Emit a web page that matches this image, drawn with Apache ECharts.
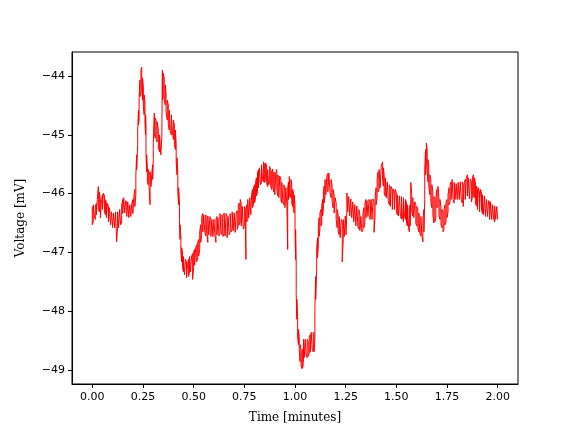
<!DOCTYPE html>
<html>
<head>
<meta charset="utf-8">
<script src="https://cdn.jsdelivr.net/npm/echarts@6/dist/echarts.min.js"></script>
<style>html,body{margin:0;padding:0;background:#fff}#chart{width:576px;height:432px}</style>
</head>
<body>
<div id="chart"></div>
<script>
// Sample times (minutes) with upper / lower extent of the noisy trace (mV)
const timeMin = [
0.000,0.005,0.010,0.015,0.020,0.025,0.030,0.035,0.040,0.045,0.050,0.055,0.060,0.065,0.070,0.075,0.080,0.085,0.090,0.095,
0.100,0.105,0.110,0.115,0.120,0.125,0.130,0.135,0.140,0.145,0.150,0.155,0.160,0.165,0.170,0.175,0.180,0.185,0.190,0.195,
0.200,0.205,0.210,0.215,0.219,0.224,0.228,0.231,0.235,0.240,0.244,0.248,0.252,0.256,0.260,0.263,0.265,0.268,0.272,0.276,
0.280,0.285,0.290,0.294,0.298,0.301,0.306,0.310,0.315,0.320,0.326,0.332,0.338,0.343,0.346,0.350,0.355,0.360,0.364,0.370,
0.375,0.380,0.385,0.390,0.395,0.400,0.405,0.410,0.414,0.418,0.422,0.426,0.430,0.433,0.437,0.441,0.445,0.450,0.455,0.460,
0.465,0.470,0.475,0.480,0.485,0.490,0.495,0.500,0.505,0.510,0.515,0.520,0.525,0.530,0.535,0.540,0.545,0.550,0.555,0.560,
0.565,0.570,0.575,0.580,0.585,0.590,0.595,0.600,0.605,0.610,0.615,0.620,0.625,0.630,0.635,0.640,0.645,0.650,0.655,0.660,
0.665,0.670,0.675,0.680,0.685,0.690,0.695,0.700,0.705,0.710,0.715,0.720,0.725,0.730,0.735,0.740,0.745,0.750,0.755,0.758,
0.762,0.767,0.772,0.777,0.782,0.786,0.790,0.795,0.800,0.805,0.810,0.815,0.820,0.825,0.830,0.835,0.840,0.845,0.850,0.855,
0.860,0.865,0.870,0.875,0.880,0.885,0.890,0.895,0.900,0.905,0.910,0.915,0.920,0.925,0.930,0.935,0.940,0.945,0.950,0.955,
0.960,0.964,0.968,0.972,0.976,0.980,0.984,0.988,0.992,0.996,1.000,1.003,1.006,1.009,1.013,1.017,1.021,1.025,1.030,1.034,
1.038,1.042,1.046,1.050,1.055,1.060,1.065,1.070,1.075,1.080,1.085,1.090,1.094,1.098,1.102,1.107,1.111,1.115,1.119,1.123,
1.128,1.132,1.136,1.140,1.144,1.148,1.152,1.157,1.162,1.167,1.173,1.178,1.183,1.188,1.193,1.198,1.203,1.208,1.213,1.218,
1.223,1.228,1.233,1.238,1.243,1.248,1.252,1.256,1.260,1.265,1.270,1.275,1.280,1.285,1.290,1.295,1.300,1.305,1.310,1.315,
1.320,1.325,1.330,1.335,1.340,1.345,1.350,1.355,1.360,1.365,1.370,1.375,1.380,1.385,1.390,1.395,1.400,1.405,1.410,1.415,
1.420,1.425,1.432,1.436,1.440,1.445,1.450,1.455,1.460,1.465,1.470,1.475,1.480,1.485,1.490,1.495,1.500,1.505,1.510,1.515,
1.520,1.525,1.530,1.535,1.540,1.545,1.550,1.555,1.560,1.564,1.568,1.571,1.576,1.581,1.586,1.591,1.596,1.601,1.606,1.611,
1.616,1.621,1.626,1.631,1.636,1.640,1.644,1.648,1.652,1.656,1.660,1.665,1.670,1.675,1.680,1.685,1.690,1.695,1.700,1.705,
1.710,1.715,1.720,1.725,1.730,1.735,1.740,1.745,1.750,1.755,1.760,1.765,1.770,1.775,1.780,1.785,1.790,1.795,1.800,1.805,
1.810,1.815,1.820,1.825,1.830,1.835,1.840,1.845,1.850,1.855,1.860,1.865,1.870,1.875,1.880,1.885,1.890,1.895,1.900,1.905,
1.910,1.915,1.920,1.925,1.930,1.935,1.940,1.945,1.950,1.955,1.960,1.965,1.970,1.975,1.980,1.985,1.990,1.995,2.000
];
const voltHigh = [
-46.22,-46.19,-46.16,-46.21,-46.17,-46.10,-45.88,-45.97,-46.10,-46.14,-46.02,-45.99,-46.04,-46.10,-46.16,-46.17,-46.22,-46.24,-46.27,-46.31,
-46.29,-46.33,-46.31,-46.31,-46.33,-46.31,-46.29,-46.27,-46.24,-46.21,-46.10,-46.07,-46.09,-46.12,-46.16,-46.14,-46.17,-46.19,-46.16,-46.17,
-46.10,-46.05,-45.93,-45.68,-45.34,-44.92,-44.58,-44.37,-44.07,-43.90,-43.85,-44.03,-44.18,-44.32,-44.46,-44.66,-44.86,-45.34,-45.56,-45.59,
-45.63,-45.63,-45.65,-45.63,-45.51,-45.14,-44.63,-44.71,-44.75,-44.78,-44.92,-45.00,-45.03,-45.05,-43.90,-43.95,-44.03,-44.15,-44.29,-44.41,
-44.49,-44.58,-44.61,-44.66,-44.63,-44.75,-44.83,-44.92,-45.17,-45.39,-45.68,-45.90,-46.16,-46.53,-46.75,-46.92,-46.99,-47.07,-47.09,-47.12,
-47.16,-47.21,-47.12,-47.07,-47.04,-47.06,-47.02,-46.99,-46.95,-46.92,-46.87,-46.82,-46.78,-46.65,-46.53,-46.39,-46.34,-46.36,-46.33,-46.36,
-46.34,-46.38,-46.36,-46.39,-46.43,-46.44,-46.43,-46.44,-46.41,-46.43,-46.39,-46.41,-46.38,-46.34,-46.33,-46.36,-46.34,-46.33,-46.31,-46.34,
-46.38,-46.39,-46.36,-46.34,-46.33,-46.31,-46.34,-46.33,-46.31,-46.33,-46.29,-46.21,-46.16,-46.10,-46.17,-46.22,-46.24,-46.22,-46.26,-46.27,
-46.19,-46.10,-46.09,-46.07,-46.05,-46.02,-45.93,-45.90,-45.85,-45.81,-45.73,-45.65,-45.59,-45.56,-45.54,-45.51,-45.49,-45.46,-45.51,-45.48,
-45.53,-45.59,-45.56,-45.54,-45.59,-45.63,-45.58,-45.63,-45.68,-45.65,-45.59,-45.68,-45.73,-45.70,-45.76,-45.81,-45.80,-45.85,-45.93,-45.90,
-45.87,-45.90,-45.80,-45.71,-45.68,-45.76,-45.85,-45.93,-45.97,-46.02,-46.19,-46.61,-47.21,-47.80,-48.11,-48.31,-48.43,-48.57,-48.65,-48.69,
-48.65,-48.48,-48.45,-48.48,-48.45,-48.48,-48.52,-48.45,-48.40,-48.36,-48.38,-48.36,-48.40,-47.97,-47.41,-46.95,-46.75,-46.56,-46.41,-46.33,
-46.27,-46.22,-46.10,-45.99,-45.87,-45.76,-45.73,-45.70,-45.66,-45.65,-45.68,-45.76,-45.85,-45.93,-46.02,-46.07,-46.16,-46.27,-46.36,-46.39,
-46.41,-46.44,-46.48,-46.44,-46.41,-46.38,-46.36,-45.99,-46.02,-46.05,-46.04,-46.09,-46.10,-46.14,-46.16,-46.19,-46.17,-46.21,-46.24,-46.27,
-46.36,-46.39,-46.38,-46.34,-46.24,-46.16,-46.10,-46.12,-46.09,-46.10,-46.14,-46.10,-46.12,-46.09,-46.14,-46.07,-45.90,-45.76,-45.63,-45.59,
-45.56,-45.54,-45.46,-45.56,-45.68,-45.73,-45.76,-45.80,-45.81,-45.85,-45.90,-45.88,-45.93,-45.92,-45.97,-45.93,-45.99,-46.02,-45.99,-46.04,
-46.02,-46.05,-46.02,-46.07,-46.04,-46.10,-46.16,-46.19,-46.22,-46.24,-46.19,-45.81,-46.02,-46.07,-46.10,-46.14,-46.19,-46.22,-46.27,-46.33,
-46.36,-46.39,-46.41,-46.44,-46.27,-45.59,-45.25,-45.14,-45.25,-45.42,-45.51,-45.68,-45.76,-45.85,-45.97,-46.05,-46.10,-46.07,-45.93,-45.88,
-46.05,-46.10,-46.22,-46.27,-46.31,-46.27,-46.19,-46.14,-46.10,-46.02,-45.90,-45.85,-45.80,-45.76,-45.78,-45.81,-45.80,-45.83,-45.85,-45.81,
-45.83,-45.80,-45.83,-45.80,-45.85,-45.81,-45.76,-45.73,-45.68,-45.73,-45.76,-45.75,-45.80,-45.73,-45.68,-45.73,-45.81,-45.87,-45.93,-45.90,
-45.97,-45.93,-45.99,-46.02,-46.05,-46.04,-46.07,-46.10,-46.07,-46.12,-46.16,-46.14,-46.17,-46.19,-46.16,-46.21,-46.19,-46.22,-46.21
];
const voltLow = [
-46.53,-46.48,-46.38,-46.44,-46.36,-46.34,-46.27,-46.31,-46.41,-46.38,-46.27,-46.24,-46.31,-46.36,-46.41,-46.44,-46.48,-46.50,-46.53,-46.55,
-46.58,-46.56,-46.58,-46.55,-46.82,-46.56,-46.58,-46.55,-46.53,-46.48,-46.34,-46.31,-46.33,-46.36,-46.39,-46.36,-46.41,-46.41,-46.39,-46.41,
-46.34,-46.31,-46.22,-46.02,-45.59,-45.17,-44.83,-44.75,-44.35,-44.27,-44.24,-44.41,-44.52,-44.66,-44.80,-45.00,-45.31,-45.63,-45.80,-45.85,
-45.88,-46.19,-45.88,-45.85,-45.76,-45.42,-44.97,-45.05,-45.08,-45.12,-45.22,-45.29,-45.34,-45.36,-44.41,-44.35,-44.41,-44.49,-44.61,-44.75,
-44.83,-44.92,-44.95,-45.00,-44.92,-45.08,-45.17,-45.25,-45.46,-45.68,-45.97,-46.19,-46.44,-46.78,-46.99,-47.16,-47.26,-47.33,-47.38,-47.41,
-47.43,-47.46,-47.41,-47.34,-47.33,-47.36,-47.46,-47.26,-47.22,-47.21,-47.16,-47.09,-47.06,-46.95,-46.83,-46.70,-46.65,-46.68,-46.66,-46.72,
-46.68,-46.83,-46.70,-46.72,-46.73,-46.72,-46.73,-46.70,-46.72,-46.83,-46.70,-46.73,-46.72,-46.68,-46.66,-46.70,-46.73,-46.68,-46.72,-46.75,
-46.75,-46.72,-46.70,-46.66,-46.65,-46.61,-46.63,-46.65,-46.66,-46.63,-46.61,-46.55,-46.53,-46.48,-46.55,-46.58,-46.60,-46.56,-46.61,-47.12,
-46.48,-46.44,-46.41,-46.39,-46.36,-46.33,-46.24,-46.19,-46.16,-46.10,-46.04,-45.97,-45.90,-45.88,-45.85,-45.81,-45.76,-45.80,-45.81,-45.76,
-45.83,-45.88,-45.85,-45.81,-45.87,-45.93,-45.88,-45.97,-46.02,-45.99,-45.93,-46.04,-46.07,-46.05,-46.10,-46.16,-46.14,-46.19,-46.24,-46.27,
-46.22,-46.95,-46.10,-46.04,-45.99,-46.07,-46.16,-46.22,-46.27,-46.33,-46.61,-47.12,-47.72,-48.14,-48.43,-48.57,-48.65,-48.86,-48.92,-48.98,
-48.96,-48.82,-48.79,-48.82,-48.75,-48.79,-48.77,-48.72,-48.70,-48.69,-48.65,-48.69,-48.69,-48.48,-47.80,-47.29,-47.09,-46.90,-46.73,-46.61,
-46.55,-46.50,-46.38,-46.27,-46.16,-46.05,-46.02,-46.00,-45.97,-45.95,-45.99,-46.07,-46.14,-46.24,-46.33,-46.36,-46.44,-46.58,-46.65,-46.70,
-46.75,-46.78,-47.16,-46.78,-46.73,-46.72,-46.70,-46.27,-46.31,-46.34,-46.38,-46.39,-46.41,-46.43,-46.48,-46.51,-46.55,-46.53,-46.56,-46.60,
-46.63,-46.66,-46.65,-46.61,-46.58,-46.48,-46.41,-46.43,-46.39,-46.41,-46.44,-46.43,-46.44,-46.41,-46.66,-46.38,-46.19,-46.07,-45.97,-45.93,
-45.90,-45.87,-45.76,-45.87,-45.99,-46.04,-46.07,-46.10,-46.12,-46.19,-46.22,-46.21,-46.27,-46.24,-46.27,-46.29,-46.31,-46.36,-46.38,-46.41,
-46.39,-46.43,-46.38,-46.48,-46.39,-46.44,-46.51,-46.55,-46.58,-46.65,-46.55,-46.10,-46.31,-46.38,-46.41,-46.44,-46.51,-46.55,-46.58,-46.65,
-46.68,-46.72,-46.73,-46.82,-46.65,-46.10,-45.68,-45.51,-45.63,-45.80,-45.88,-46.02,-46.14,-46.24,-46.36,-46.50,-46.48,-46.41,-46.24,-46.19,
-46.36,-46.44,-46.53,-46.58,-46.65,-46.61,-46.53,-46.48,-46.41,-46.31,-46.19,-46.14,-46.10,-46.07,-46.10,-46.16,-46.10,-46.07,-46.10,-46.09,
-46.10,-46.07,-46.10,-46.16,-46.22,-46.19,-46.10,-46.07,-46.04,-46.05,-46.09,-46.10,-46.14,-46.07,-46.02,-46.07,-46.16,-46.21,-46.27,-46.27,
-46.31,-46.33,-46.29,-46.34,-46.36,-46.38,-46.39,-46.38,-46.39,-46.41,-46.44,-46.43,-46.44,-46.46,-46.44,-46.48,-46.44,-46.46,-46.44
];
const xTicks = [0, 0.25, 0.5, 0.75, 1.0, 1.25, 1.5, 1.75, 2.0];
const yTicks = [-49, -48, -47, -46, -45, -44];

// zig-zag between the read extremes at each sample time
const traceData = [];
for (let i = 0; i < timeMin.length; i++) {
  if (i % 2 === 0) {
    traceData.push([timeMin[i], voltHigh[i]], [timeMin[i], voltLow[i]]);
  } else {
    traceData.push([timeMin[i], voltLow[i]], [timeMin[i], voltHigh[i]]);
  }
}

const chart = echarts.init(document.getElementById('chart'), null, {renderer: 'canvas'});
const tickFont = {fontFamily: 'DejaVu Sans', fontSize: 11, color: '#000'};
const labelFont = {fontFamily: 'DejaVu Serif', fontSize: 12, color: '#000'};
chart.setOption({
  animation: false,
  backgroundColor: '#fff',
  grid: {left: 72, top: 52, width: 446, height: 332, show: true, borderColor: '#000', borderWidth: 1, backgroundColor: 'transparent'},
  xAxis: {
    type: 'value', min: -0.1, max: 2.1,
    splitLine: {show: false},
    axisLine: {show: true, onZero: false, lineStyle: {color: '#000', width: 1}},
    axisTick: {show: true, customValues: xTicks, length: 4, lineStyle: {color: '#000', width: 1}},
    axisLabel: Object.assign({customValues: xTicks, margin: 8, formatter: v => v.toFixed(2)}, tickFont),
    name: 'Time [minutes]', nameLocation: 'middle', nameGap: 28,
    nameTextStyle: labelFont
  },
  yAxis: {
    type: 'value', min: -49.24, max: -43.59,
    splitLine: {show: false},
    axisLine: {show: true, onZero: false, lineStyle: {color: '#000', width: 1}},
    axisTick: {show: true, customValues: yTicks, length: 4, lineStyle: {color: '#000', width: 1}},
    axisLabel: Object.assign({customValues: yTicks, margin: 7, formatter: v => String(Math.round(v)).replace('-', '\u2212')}, tickFont),
    name: 'Voltage [mV]', nameLocation: 'middle', nameGap: 45,
    nameTextStyle: labelFont
  },
  series: [{
    type: 'line',
    data: traceData,
    showSymbol: false,
    symbol: 'none',
    lineStyle: {color: '#ff0000', width: 1},
    clip: true
  }]
});
</script>
</body>
</html>
